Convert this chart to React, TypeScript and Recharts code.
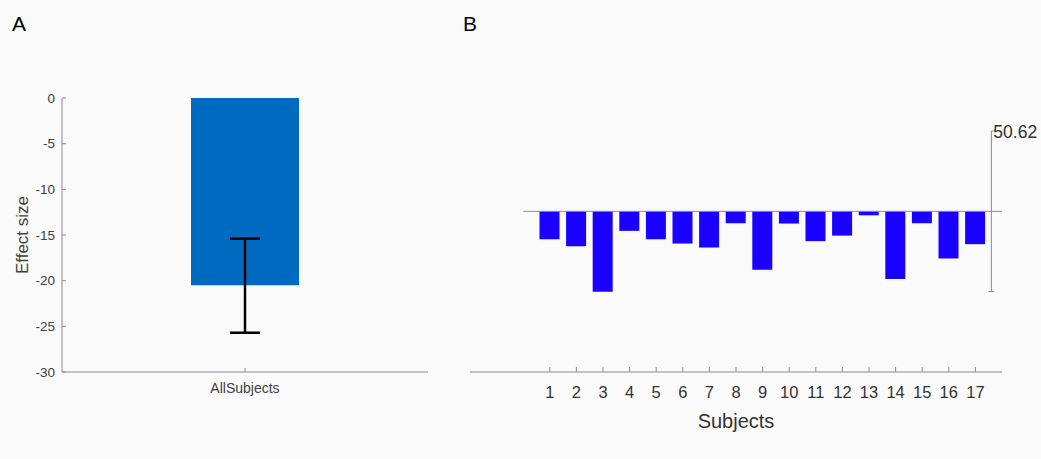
import React from 'react'
import {
  BarChart,
  Bar,
  XAxis,
  YAxis,
  ErrorBar,
  ReferenceLine,
  ReferenceDot,
} from 'recharts'

// panel A: mean effect over all subjects
const groupLabels = ['AllSubjects']
const groupMeans = [-20.5]
const groupErrors = [[5.2, 5.1]] // [below, above]
const effectTicks = [-30, -25, -20, -15, -10, -5, 0]

// panel B: effect per subject
const subjects = [1, 2, 3, 4, 5, 6, 7, 8, 9, 10, 11, 12, 13, 14, 15, 16, 17]
const subjectEffects = [
  -17.6, -22.0, -50.62, -12.3, -17.6, -20.3, -22.8, -7.5, -36.8, -7.7, -18.8,
  -15.3, -2.5, -42.7, -7.5, -29.7, -20.7,
]
const scaleMax = 50.62

const groupData = groupLabels.map((name, i) => ({
  name,
  effect: groupMeans[i],
  err: groupErrors[i],
}))

const subjectData = subjects.map((s, i) => ({ subject: s, effect: subjectEffects[i] }))

const font = '"Liberation Sans", Arial, sans-serif'
const axisGray = '#8c8c8c'
const textGray = '#404040'

const YTickA = (props: any) => {
  const { x, y, payload } = props
  return (
    <g>
      <line x1={x} y1={y} x2={x + 4} y2={y} stroke={axisGray} />
      <text x={x - 7} y={y + 4.5} textAnchor="end" fontSize={13.5} fill={textGray} fontFamily={font}>
        {payload.value}
      </text>
    </g>
  )
}

const XTickA = (props: any) => {
  const { x, y, payload } = props
  return (
    <g>
      <line x1={x} y1={y} x2={x} y2={y - 4} stroke={axisGray} />
      <text x={x} y={y + 21} textAnchor="middle" fontSize={14} fill={textGray} fontFamily={font}>
        {payload.value}
      </text>
    </g>
  )
}

const XTickB = (props: any) => {
  const { x, y, payload } = props
  return (
    <g>
      <line x1={x} y1={y} x2={x} y2={y - 5} stroke={axisGray} />
      <text x={x} y={y + 26} textAnchor="middle" fontSize={16.5} fill="#333" fontFamily={font}>
        {payload.value}
      </text>
    </g>
  )
}

const ScaleTop = (props: any) => {
  const { cx, cy } = props
  return (
    <g>
      <line x1={cx} y1={cy} x2={cx + 3} y2={cy} stroke={axisGray} />
      <text x={cx + 2} y={cy + 7} fontSize={17.5} fill="#333" fontFamily={font}>
        {scaleMax.toFixed(2)}
      </text>
    </g>
  )
}

const ScaleBottom = (props: any) => {
  const { cx, cy } = props
  return <line x1={cx - 3} y1={cy} x2={cx + 3} y2={cy} stroke={axisGray} />
}

export default function App() {
  return (
    <div
      style={{
        position: 'absolute',
        left: 0,
        top: 0,
        width: 1041,
        height: 459,
        background: '#fafafa',
        fontFamily: font,
      }}
    >
      <div style={{ position: 'absolute', left: 12, top: 12, fontSize: 21, color: '#000' }}>A</div>
      <div style={{ position: 'absolute', left: 463, top: 12, fontSize: 21, color: '#000' }}>B</div>

      <div style={{ position: 'absolute', left: 0, top: 0 }}>
        <BarChart
          width={440}
          height={459}
          data={groupData}
          margin={{ top: 98, right: 12, bottom: 57, left: 0 }}
        >
          <XAxis
            dataKey="name"
            height={30}
            stroke={axisGray}
            tickLine={false}
            tickSize={0}
            tickMargin={0}
            tick={XTickA}
          />
          <YAxis
            width={62}
            domain={[-30, 0]}
            ticks={effectTicks}
            stroke={axisGray}
            tickLine={false}
            tickSize={0}
            tickMargin={0}
            tick={YTickA}
            label={{
              value: 'Effect size',
              angle: -90,
              position: 'center',
              dx: -9,
              fontSize: 17,
              fill: textGray,
              fontFamily: font,
            }}
          />
          <Bar dataKey="effect" fill="#0069c0" barSize={108} isAnimationActive={false}>
            <ErrorBar dataKey="err" width={15} stroke="#000" strokeWidth={2.5} direction="y" />
          </Bar>
        </BarChart>
      </div>

      <div style={{ position: 'absolute', left: 440, top: 0 }}>
        <BarChart
          width={601}
          height={459}
          data={subjectData}
          margin={{ top: 131, right: 39, bottom: 27, left: 30 }}
        >
          <XAxis
            dataKey="subject"
            type="number"
            domain={[-2, 18]}
            ticks={subjects}
            height={60}
            stroke={axisGray}
            tickLine={false}
            tickSize={0}
            tickMargin={0}
            tick={XTickB}
            label={{
              value: 'Subjects',
              position: 'insideTop',
              offset: 42,
              fontSize: 20,
              fill: '#333',
              fontFamily: font,
            }}
          />
          <YAxis hide domain={[-2 * scaleMax, scaleMax]} />
          <ReferenceLine
            segment={[
              { x: 0, y: 0 },
              { x: 18, y: 0 },
            ]}
            stroke={axisGray}
          />
          <ReferenceLine
            segment={[
              { x: 17.6, y: -scaleMax },
              { x: 17.6, y: scaleMax },
            ]}
            stroke={axisGray}
          />
          <ReferenceDot x={17.6} y={scaleMax} r={0} shape={ScaleTop} />
          <ReferenceDot x={17.6} y={-scaleMax} r={0} shape={ScaleBottom} />
          <Bar dataKey="effect" fill="#1a00ff" barSize={20} isAnimationActive={false} />
        </BarChart>
      </div>
    </div>
  )
}
